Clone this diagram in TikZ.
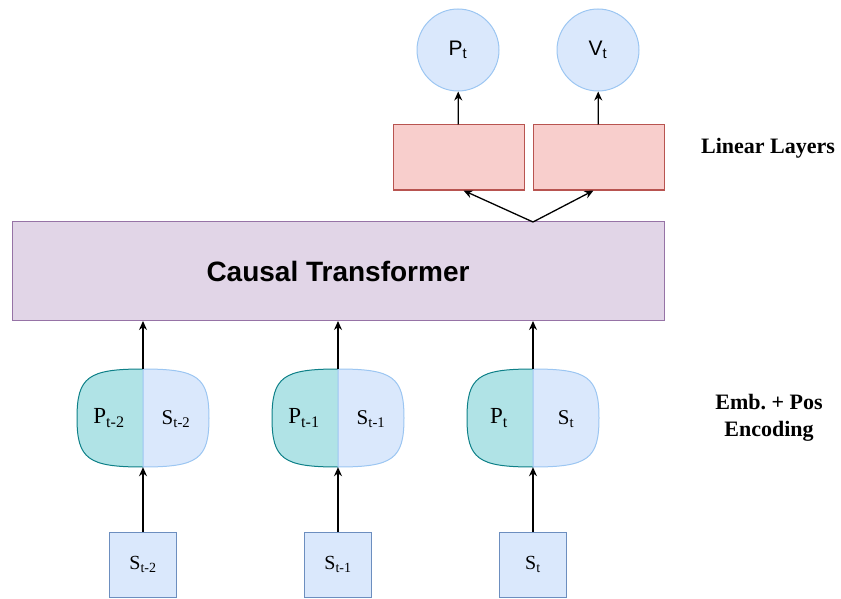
\documentclass[tikz,border=0pt]{standalone}
\usepackage{fontspec}
\setmainfont{Liberation Serif}
\setsansfont{Liberation Sans}
\usetikzlibrary{arrows.meta}
\definecolor{tffill}{HTML}{E1D5E7}
\definecolor{tfdraw}{HTML}{9673A6}
\definecolor{linfill}{HTML}{F8CECC}
\definecolor{lindraw}{HTML}{B85450}
\definecolor{bluefill}{HTML}{DAE8FC}
\definecolor{bluedraw}{HTML}{6C8EBF}
\definecolor{lightdraw}{HTML}{9CC6F2}
\definecolor{tealfill}{HTML}{B0E3E6}
\definecolor{tealdraw}{HTML}{0E8088}
\tikzset{arr/.style={-{Stealth[length=9pt,width=8pt]}, line width=1.3pt}}
\tikzset{tfbox/.style={rectangle, draw=tfdraw, fill=tffill, line width=1pt,
   minimum width=652pt, minimum height=99pt,
   font=\sffamily\bfseries\fontsize{28}{33}\selectfont}}
\tikzset{linbox/.style={rectangle, draw=lindraw, fill=linfill, line width=1pt,
   minimum width=131pt, minimum height=65pt}}
\tikzset{outcirc/.style={circle, draw=lightdraw, fill=bluefill, line width=1pt,
   minimum size=82pt, inner sep=0pt, font=\sffamily\fontsize{21}{25}\selectfont}}
\tikzset{inbox/.style={rectangle, draw=bluedraw, fill=bluefill, line width=1pt,
   minimum width=67pt, minimum height=65pt, inner sep=0pt,
   font=\fontsize{20}{24}\selectfont}}
\tikzset{pillbox/.style={rectangle, minimum width=132pt, minimum height=98pt, inner sep=0pt}}
\tikzset{lhalf/.style={draw=tealdraw, fill=tealfill, line width=1pt}}
\tikzset{rhalf/.style={draw=lightdraw, fill=bluefill, line width=1pt}}
\tikzset{side/.style={font=\bfseries\fontsize{22}{27}\selectfont, align=center}}

\begin{document}
\begin{tikzpicture}[x=1pt, y=-1pt]

    \useasboundingbox (0,0) rectangle (841,599);

    \node[tfbox] (ct) at (338,271) {Causal Transformer};

    % linear heads and their outputs
    \node[linbox] (lin1) at (458.5,157.5) {};
    \node[linbox] (lin2) at (598.5,157.5) {};
    \node[outcirc] (pt) at (458,50) {P\textsubscript{t}};
    \node[outcirc] (vt) at (598,50) {V\textsubscript{t}};

    \draw[arr] (lin1) -- (pt);
    \draw[arr] (lin2) -- (vt);
    \coordinate (split) at (533,222);
    \draw[arr] (split) -- ([xshift=5pt]lin1.south);
    \draw[arr] (split) -- ([xshift=-5pt]lin2.south);

    % one column per time step
    \foreach \x/\s [count=\i] in {143/t-2, 338/t-1, 533/t} {
      \node[pillbox] (emb\i) at (\x,418) {};
      \draw[lhalf] (\x,369)
        .. controls ({\x-55},369) and ({\x-66},377) .. ({\x-66},418)
        .. controls ({\x-66},459) and ({\x-55},467) .. (\x,467);
      \draw[rhalf] (\x,369)
        .. controls ({\x+55},369) and ({\x+66},377) .. ({\x+66},418)
        .. controls ({\x+66},459) and ({\x+55},467) .. (\x,467) -- cycle;
      \node[font=\fontsize{23}{27}\selectfont] (p\i) at ({\x-34},418) {P\textsubscript{\s}};
      \node[font=\fontsize{21}{25}\selectfont] (s\i) at ({\x+33},419) {S\textsubscript{\s}};
      \node[inbox] (st\i) at (\x,564.5) {S\textsubscript{\s}};
      \draw[arr] (st\i) -- (emb\i);
      \draw[arr] (emb\i.north) -- (emb\i.north |- ct.south);
    }

    \node[side] (linlbl) at (768,148) {Linear Layers};
    \node[side] (emblbl) at (769,418) {Emb.\ + Pos\\Encoding};

\end{tikzpicture}
\end{document}
